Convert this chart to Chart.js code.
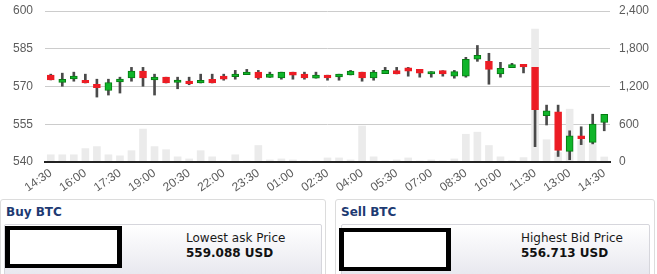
<!DOCTYPE html>
<html>
<head>
<meta charset="utf-8">
<script src="https://cdn.jsdelivr.net/npm/chart.js@4.4.1/dist/chart.umd.min.js"></script>
<style>
  html, body { margin: 0; padding: 0; background: #fff; }
  body { width: 657px; height: 274px; overflow: hidden; position: relative; font-family: "DejaVu Sans", Verdana, sans-serif; }
  #chartBox { position: absolute; left: 0; top: 0; width: 657px; height: 198px; }
  .panel { position: absolute; top: 199px; height: 90px; border: 1px solid #dcdcdc; border-radius: 3px; box-sizing: border-box; }
  .panel h3 { margin: 0; position: absolute; left: 5px; top: 5px; font-size: 12px; font-weight: bold; color: #1d3a72; }
  .inner { position: absolute; top: 24px; height: 60px; border: 1px solid #d6d6dc; border-radius: 2px;
           background: linear-gradient(#ffffff, #e4e4ec); box-sizing: border-box; }
  .redact { position: absolute; background: #fff; border-style: solid; border-color: #000; box-sizing: border-box; }
  .label { position: absolute; font-size: 12px; color: #1a1a1a; white-space: nowrap; }
  .price { position: absolute; font-size: 12px; font-weight: bold; color: #111; white-space: nowrap; }
</style>
</head>
<body>
<div id="chartBox"><canvas id="chartCanvas"></canvas></div>

<div class="panel" style="left:0; width:326px;">
  <h3>Buy BTC</h3>
  <div class="inner" style="left:3px; width:318px;"></div>
  <div class="redact" style="left:4px; top:26px; width:117px; height:42px; border-width:4px 5px;"></div>
  <div class="label" style="left:185px; top:31px;">Lowest ask Price</div>
  <div class="price" style="left:185px; top:46px;">559.088 USD</div>
</div>

<div class="panel" style="left:335px; width:320px;">
  <h3>Sell BTC</h3>
  <div class="inner" style="left:5px; width:309px;"></div>
  <div class="redact" style="left:3px; top:28px; width:112px; height:43px; border-width:4px 5px;"></div>
  <div class="label" style="left:185px; top:31px;">Highest Bid Price</div>
  <div class="price" style="left:185px; top:46px;">556.713 USD</div>
</div>

<script>
const times = ["14:30","15:00","15:30","16:00","16:30","17:00","17:30","18:00","18:30","19:00",
  "19:30","20:00","20:30","21:00","21:30","22:00","22:30","23:00","23:30","00:00",
  "00:30","01:00","01:30","02:00","02:30","03:00","03:30","04:00","04:30","05:00",
  "05:30","06:00","06:30","07:00","07:30","08:00","08:30","09:00","09:30","10:00",
  "10:30","11:00","11:30","12:00","12:30","13:00","13:30","14:00","14:30"];

const openP = [574.5,571.6,573.0,572.5,570.9,568.4,571.8,573.4,576.1,572.6,
  573.7,571.6,572.2,571.4,572.8,574.1,573.9,574.7,575.7,573.6,
  573.4,575.7,574.9,573.3,574.5,573.8,574.6,575.7,573.4,575.1,
  576.3,577.4,576.8,575.0,576.3,574.1,574.1,580.9,580.0,575.0,
  577.5,578.8,577.6,558.4,559.9,544.2,550.4,547.8,555.7];
const highP = [574.9,575.3,575.7,574.9,572.9,572.9,573.7,577.6,577.6,574.9,
  573.7,573.7,573.7,574.9,574.9,574.9,576.4,576.8,576.4,575.7,
  575.7,575.7,575.7,575.7,574.5,574.9,576.4,575.7,576.4,577.6,
  577.6,577.6,576.8,575.9,576.3,576.4,581.6,586.3,583.2,579.6,
  579.2,578.8,577.6,562.6,562.6,552.4,554.0,559.0,558.9];
const lowP = [572.6,570.1,572.1,571.4,565.8,566.6,567.4,572.1,570.1,566.6,
  571.4,569.1,570.7,571.4,571.4,572.5,572.9,574.7,572.9,573.6,
  572.9,572.9,572.9,573.3,572.5,572.5,574.6,572.1,572.5,575.1,
  575.0,574.1,573.7,573.7,574.1,573.3,573.7,580.0,570.9,573.7,
  577.5,575.4,546.1,554.7,542.2,540.9,546.9,547.2,552.4];
const closeP = [572.6,572.8,574.1,571.4,569.5,571.6,572.9,576.1,573.4,573.7,
  571.4,572.6,571.1,572.5,571.4,572.9,574.9,575.7,573.4,574.9,
  575.7,574.5,573.4,574.5,573.4,574.9,576.1,573.4,575.7,576.4,
  575.0,576.1,575.3,575.9,575.0,575.9,580.8,582.4,576.8,577.2,
  578.7,577.8,560.8,560.3,544.6,550.4,549.2,555.1,558.9];
const volume = [115,115,115,213,245,115,98,180,523,245,
  196,82,49,180,82,16,115,16,262,33,
  49,33,16,16,65,65,33,572,82,16,
  33,65,16,33,16,49,441,474,262,82,
  22,70,2111,354,150,840,340,290,80];

const priceTicks = [540, 555, 570, 585, 600];
const volumeTicks = [0, 600, 1200, 1800, 2400];

const upFill = "#10b52a", upLine = "#067a12";
const downFill = "#ec1c24", downLine = "#ec1c24";

const wicks = lowP.map((l, i) => [l, highP[i]]);
const bodies = openP.map((o, i) => [o, closeP[i]]);
const isUp = openP.map((o, i) => closeP[i] >= o);

Chart.defaults.font.family = "'Liberation Sans', Arial, sans-serif";
Chart.defaults.font.size = 12;
Chart.defaults.color = "#5c5c5c";

// keep the side axes from pushing the plot down
function fixSide(width) {
  return (s) => {
    s.width = width;
    s.paddingTop = 0;
    s.paddingBottom = 0;
  };
}

const ctx = document.getElementById("chartCanvas").getContext("2d");
window.myChart = new Chart(ctx, {
  type: "bar",
  data: {
    labels: times,
    datasets: [
      {
        label: "Volume",
        data: volume,
        yAxisID: "y1",
        backgroundColor: "#ebebeb",
        barThickness: 7,
        grouped: false,
        order: 3,
      },
      {
        label: "Wick",
        data: wicks,
        yAxisID: "y",
        backgroundColor: "#4a4a4a",
        barThickness: 2,
        grouped: false,
        order: 2,
      },
      {
        label: "Body",
        data: bodies,
        yAxisID: "y",
        backgroundColor: isUp.map((u) => (u ? upFill : downFill)),
        borderColor: isUp.map((u) => (u ? upLine : downLine)),
        borderWidth: 1,
        borderSkipped: false,
        barThickness: 7,
        grouped: false,
        order: 1,
      },
    ],
  },
  options: {
    responsive: true,
    maintainAspectRatio: false,
    animation: false,
    layout: { padding: { top: 11, left: 0, right: 0, bottom: 0 } },
    plugins: { legend: { display: false }, tooltip: { enabled: false } },
    scales: {
      x: {
        type: "category",
        offset: true,
        grid: { display: false, drawTicks: false },
        border: { display: true, color: "#222", width: 2, z: 1 },
        ticks: {
          autoSkip: false,
          maxRotation: 35,
          minRotation: 35,
          padding: 4,
          callback: (v, i) => (i % 3 === 0 ? times[i] : ""),
        },
        afterFit: (s) => { s.height = 36; },
      },
      y: {
        position: "left",
        min: 540,
        max: 600,
        afterBuildTicks: (s) => { s.ticks = priceTicks.map((v) => ({ value: v })); },
        grid: { color: "#cccccc", lineWidth: 1, drawTicks: false },
        border: { display: false },
        ticks: { padding: 12 },
        afterFit: fixSide(45),
      },
      y1: {
        position: "right",
        min: 0,
        max: 2400,
        afterBuildTicks: (s) => { s.ticks = volumeTicks.map((v) => ({ value: v })); },
        grid: { display: false, drawTicks: false },
        border: { display: false },
        ticks: {
          padding: 9,
          callback: (v) => v.toLocaleString("en-US"),
        },
        afterFit: fixSide(47),
      },
    },
  },
});
</script>
</body>
</html>
